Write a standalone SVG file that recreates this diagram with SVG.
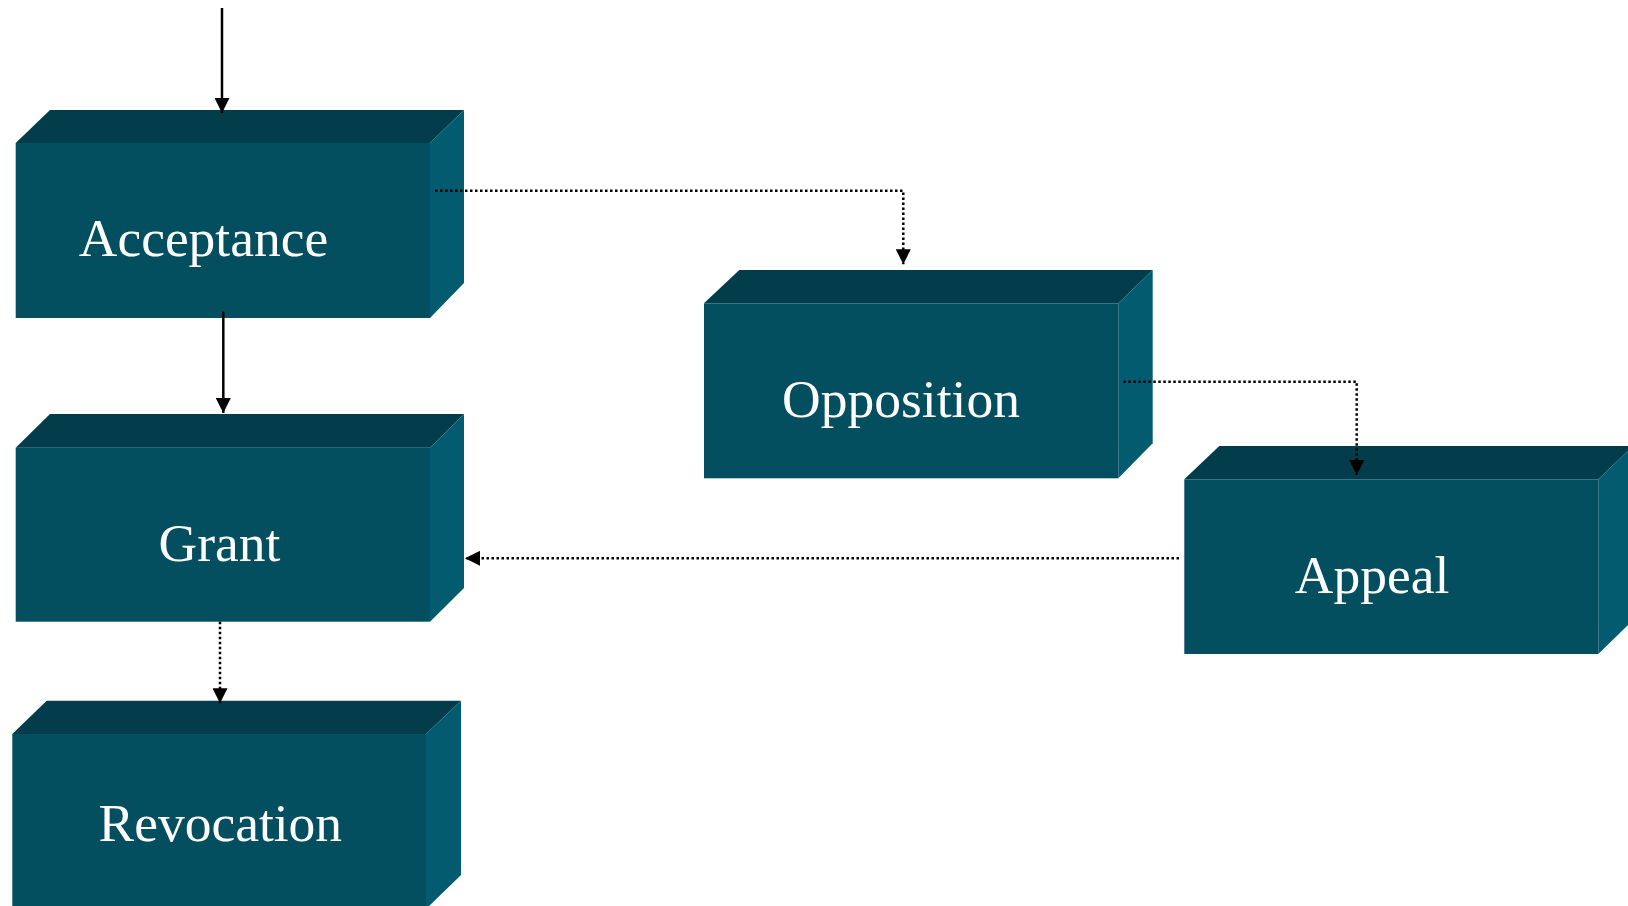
<svg xmlns="http://www.w3.org/2000/svg" width="1628" height="906" viewBox="0 0 1628 906">
<defs>
<style>
.front{fill:#034f60}
.top{fill:#033c4b}
.side{fill:#025b6e}
.lbl{font-family:"Liberation Serif","Times New Roman",serif;font-size:53.5px;fill:#ffffff;text-anchor:middle}
.solid{stroke:#000;stroke-width:2.5;fill:none}
.dot{stroke:#000;stroke-width:2.5;stroke-dasharray:2.5 2.5;fill:none}
</style>
<marker id="ah" viewBox="0 0 10 10" refX="10" refY="5" markerWidth="15" markerHeight="15" markerUnits="userSpaceOnUse" orient="auto">
<path d="M0,0 L10,5 L0,10 Z" fill="#000"/>
</marker>
</defs>
<rect width="1628" height="906" fill="#ffffff"/>
<g id="acceptance">
<polygon class="top" points="15.7,143 50,110 464,110 430,143"/>
<polygon class="side" points="430,143 464,110 464,283 430,318"/>
<rect class="front" x="15.7" y="143" width="414.3" height="175"/>
<text class="lbl" x="203.5" y="255.7">Acceptance</text>
</g>
<g id="grant">
<polygon class="top" points="15.7,447.7 50,414 464,414 430,447.7"/>
<polygon class="side" points="430,447.7 464,414 464,588 430,621.7"/>
<rect class="front" x="15.7" y="447.7" width="414.3" height="174"/>
<text class="lbl" x="219.5" y="561">Grant</text>
</g>
<g id="revocation">
<polygon class="top" points="12.3,734 46.7,700.7 461,700.7 426,734"/>
<polygon class="side" points="426,734 461,700.7 461,875 426,909"/>
<rect class="front" x="12.3" y="734" width="413.7" height="175"/>
<text class="lbl" x="220.3" y="840.7">Revocation</text>
</g>
<g id="opposition">
<polygon class="top" points="704,303.3 739.3,270 1152.7,270 1118.3,303.3"/>
<polygon class="side" points="1118.3,303.3 1152.7,270 1152.7,443.3 1118.3,478.3"/>
<rect class="front" x="704" y="303.3" width="414.3" height="175"/>
<text class="lbl" x="901" y="416.7">Opposition</text>
</g>
<g id="appeal">
<polygon class="top" points="1184.3,479.3 1219.3,446 1633,446 1598.3,479.3"/>
<polygon class="side" points="1598.3,479.3 1633,446 1633,620 1598.3,654"/>
<rect class="front" x="1184.3" y="479.3" width="414" height="174.7"/>
<text class="lbl" x="1372" y="592.7">Appeal</text>
</g>
<g id="connectors">
<path class="solid" d="M222,8 V113" marker-end="url(#ah)"/>
<path class="solid" d="M223.3,311.7 V413" marker-end="url(#ah)"/>
<path class="dot" d="M435,190.7 H903.3 V264.3" marker-end="url(#ah)"/>
<path class="dot" d="M1123.3,381.7 H1356.7 V475" marker-end="url(#ah)"/>
<path class="dot" d="M1179,558.3 H465" marker-end="url(#ah)"/>
<path class="dot" d="M220,621.7 V703.3" marker-end="url(#ah)"/>
</g>
</svg>
